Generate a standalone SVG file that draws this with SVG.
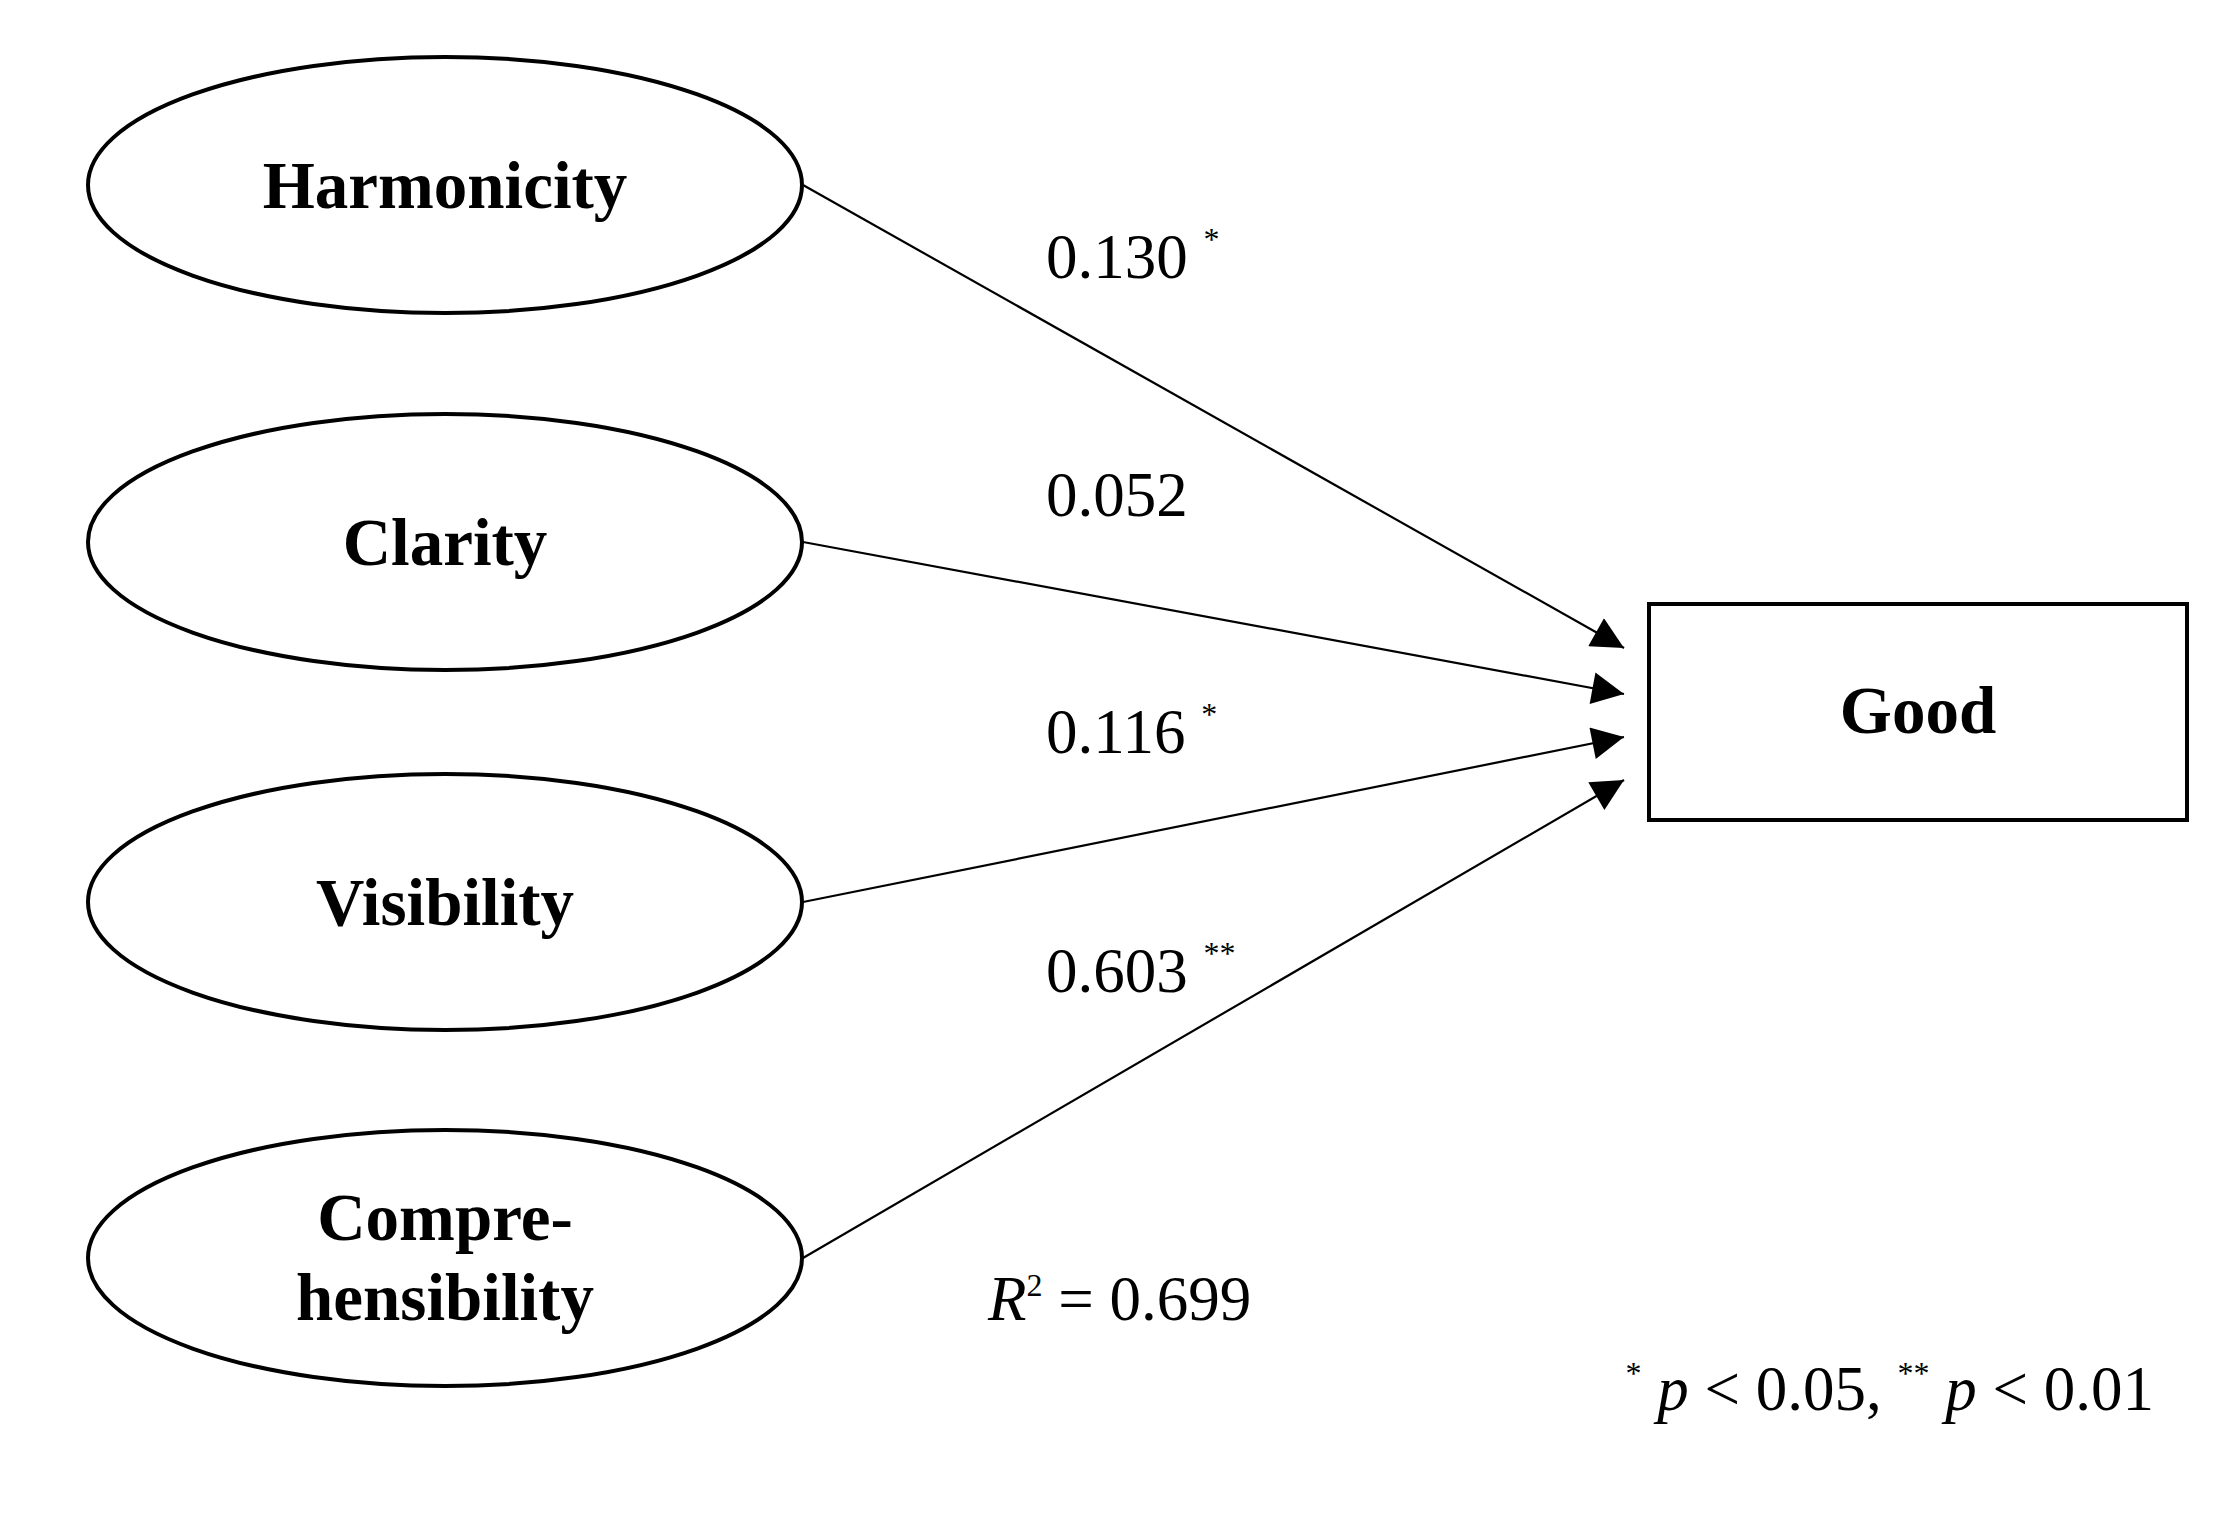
<svg xmlns="http://www.w3.org/2000/svg" width="2237" height="1513" viewBox="0 0 2237 1513">
<style>
.n{fill:#fff;stroke:#000;stroke-width:4}
.t{font-family:"Liberation Serif",serif;font-weight:bold;font-size:67px;text-anchor:middle}
.l{font-family:"Liberation Serif",serif;font-size:63px}
.s{font-size:32px}
.c line{stroke:#000;stroke-width:2.2}
</style>
<defs><marker id="b" viewBox="0 0 10 10" refX="10" refY="5" markerWidth="34" markerHeight="32" markerUnits="userSpaceOnUse" orient="auto"><path d="M0,0L10,5L0,10z"/></marker></defs>
<rect width="2237" height="1513" fill="#fff"/>
<g id="harmonicity"><ellipse class="n" cx="445" cy="185" rx="357" ry="128"/><text class="t" x="445" y="208">Harmonicity</text></g>
<g id="clarity"><ellipse class="n" cx="445" cy="542" rx="357" ry="128"/><text class="t" x="445" y="565">Clarity</text></g>
<g id="visibility"><ellipse class="n" cx="445" cy="902" rx="357" ry="128"/><text class="t" x="445" y="925">Visibility</text></g>
<g id="comprehensibility"><ellipse class="n" cx="445" cy="1258" rx="357" ry="128"/><text class="t" x="445" y="1240">Compre-</text><text class="t" x="445" y="1320">hensibility</text></g>
<g id="good"><rect class="n" x="1649" y="604" width="538" height="216"/><text class="t" x="1918" y="733">Good</text></g>
<g class="c">
<line x1="803" y1="185" x2="1624" y2="648" marker-end="url(#b)"/>
<line x1="803" y1="542" x2="1624" y2="694" marker-end="url(#b)"/>
<line x1="803" y1="902" x2="1624" y2="737" marker-end="url(#b)"/>
<line x1="803" y1="1258" x2="1624" y2="780" marker-end="url(#b)"/>
</g>
<g id="labels" class="l">
<text x="1046" y="278">0.130 <tspan class="s" dy="-28">*</tspan></text>
<text x="1046" y="516">0.052</text>
<text x="1046" y="753">0.116 <tspan class="s" dy="-28">*</tspan></text>
<text x="1046" y="992">0.603 <tspan class="s" dy="-28">**</tspan></text>
<text x="988" y="1320"><tspan font-style="italic">R</tspan><tspan class="s" dy="-24">2</tspan><tspan dy="24"> = 0.699</tspan></text>
<text x="2154" y="1410" text-anchor="end"><tspan class="s" dy="-26">*</tspan><tspan dy="26"> </tspan><tspan font-style="italic">p</tspan> &lt; 0.05, <tspan class="s" dy="-26">**</tspan><tspan dy="26"> </tspan><tspan font-style="italic">p</tspan> &lt; 0.01</text>
</g>
</svg>
